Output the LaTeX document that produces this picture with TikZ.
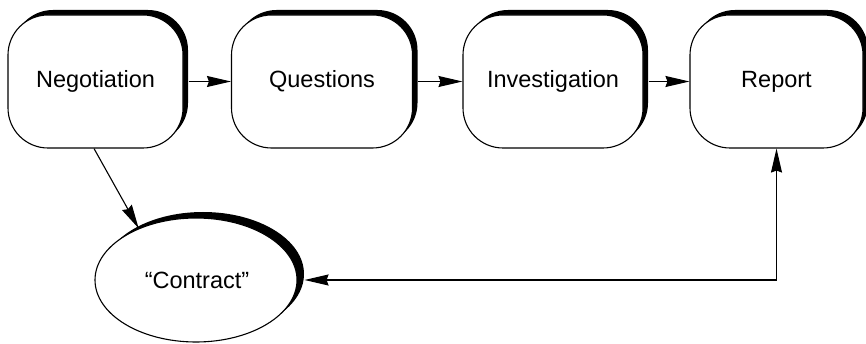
\documentclass[tikz,border=0pt]{standalone}
\usepackage{fontspec}
\setmainfont{Liberation Sans}
\usetikzlibrary{shapes.geometric,shadows,arrows.meta}
\begin{document}
\begin{tikzpicture}[x=1pt,y=-1pt,
  stagebox/.style={draw=black, line width=1.1pt, fill=white, rounded corners=40pt,
    minimum height=133pt, inner sep=0pt, font=\fontsize{23.5}{28}\selectfont,
    drop shadow={shadow xshift=5pt, shadow yshift=5pt, fill=black, opacity=1}},
  contractnode/.style={ellipse, draw=black, line width=1.1pt, fill=white,
    minimum width=202pt, minimum height=124pt, inner sep=0pt,
    font=\fontsize{23.5}{28}\selectfont,
    drop shadow={shadow xshift=7pt, shadow yshift=6pt, fill=black, opacity=1}},
  tipstyle/.tip={Stealth[length=24pt,width=11pt,inset=2pt]},
  flow/.style={line width=1.1pt, -tipstyle},
  flowboth/.style={line width=1.1pt, tipstyle-tipstyle}
]
\useasboundingbox (0,0) rectangle (866,344);
\node[stagebox, minimum width=175pt] (n1) at (95.5,81.5) {Negotiation};
\node[stagebox, minimum width=181pt] (n2) at (322,81.5) {Questions};
\node[stagebox, minimum width=180pt] (n3) at (553,81.5) {Investigation};
\node[stagebox, minimum width=173pt] (n4) at (776.5,81.5) {Report};
\node[contractnode] (c) at (196,280) {\hspace*{2pt}“Contract”};
\draw[flow, shorten <=5pt] (n1.east) -- (n2.west);
\draw[flow, shorten <=5pt] (n2.east) -- (n3.west);
\draw[flow, shorten <=5pt] (n3.east) -- (n4.west);
\draw[flow] ([xshift=-1.5pt]n1.south) -- (c.138);
\draw[flowboth, shorten <=7pt] (c.east) -| (n4.south);
\end{tikzpicture}
\end{document}
